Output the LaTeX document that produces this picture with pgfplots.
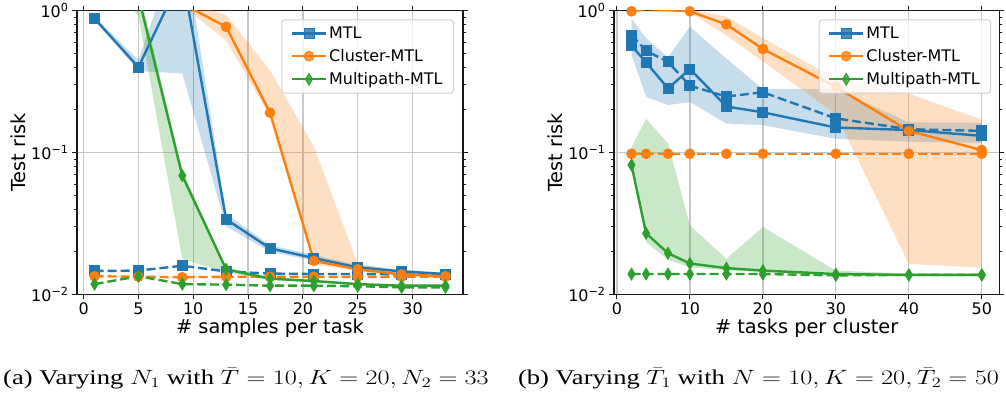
\documentclass[border=0pt]{standalone}
\usepackage[no-math]{fontspec}
\setmainfont{DejaVu Sans}
\newfontfamily\capfont{Liberation Serif}
\usepackage{graphicx}
\usepackage{pgfplots}
\pgfplotsset{compat=1.18}
\definecolor{tabblue}{HTML}{1F77B4}
\definecolor{taborange}{HTML}{FF7F0E}
\definecolor{tabgreen}{HTML}{2CA02C}
\newcommand{\tsup}[1]{\textsuperscript{#1}}
\pgfplotsset{
  legend image code/.code={\draw[mark repeat=2,mark phase=2,#1] plot coordinates {(0bp,0bp)(17bp,0bp)(34bp,0bp)};},
  mtl/.style={tabblue, line width=2.4bp, mark=square*, mark size=5bp, mark options={solid, line width=1bp, fill=tabblue}},
  cl/.style={taborange, line width=2.4bp, mark=*, mark size=4.8bp, mark options={solid, line width=1bp, fill=taborange}},
  mp/.style={tabgreen, line width=2.4bp, mark=diamond*, mark size=5.8bp, mark options={solid, line width=1bp, fill=tabgreen, xscale=0.8}},
  dsh/.style={dash pattern=on 9bp off 4bp, forget plot},
  band/.style={draw=none, fill opacity=0.25, forget plot, mark=none},
}
\begin{document}
\begin{tikzpicture}
\useasboundingbox (0,0) rectangle (1006bp,396bp);
% ---------------- (a) ----------------
\begin{axis}[at={(77bp,101.7bp)}, anchor=south west, width=386bp,
    scale only axis, height=283.6bp,
    ymode=log, ymin=0.01, ymax=1,
    axis line style={line width=1.1bp, black!90},
    tick align=outside, major tick length=5bp, minor tick length=3bp,
    major tick style={line width=1.1bp, black!90},
    minor tick style={line width=0.8bp, black!90},
    xmajorgrids, ymajorgrids,
    major grid style={black!22, line width=1.3bp},
    ytick={0.01,0.1,1},
    yticklabels={10\tsup{−2},10\tsup{−1},10\tsup{0}},
    tick label style={font=\fontsize{16}{19}\selectfont},
    /pgf/number format/assume math mode=true,
    label style={font=\fontsize{19.4}{23}\selectfont},
    xlabel style={at={(axis description cs:0.5,-0.118)}, anchor=center},
    ylabel style={at={(axis description cs:-0.152,0.5)}, anchor=center},
    ylabel={Test risk},
    legend cell align=left,
    legend style={at={(0.9767,0.9697)}, anchor=north east, font=\fontsize{16}{19}\selectfont,
      draw=black!18, line width=1bp, fill=white, fill opacity=0.8, text opacity=1, draw opacity=1,
      rounded corners=3bp, inner xsep=9bp, inner ysep=5bp, row sep=5.5bp},
  xmin=-0.6, xmax=34.6, xtick={0,5,10,15,20,25,30},
  xlabel={\# samples per task}]
\addplot[band, fill=tabblue] coordinates {(1,0.90)(5,0.45)(9,3.5)(13,0.037)(17,0.0222)(21,0.0190)(25,0.0161)(29,0.0149)(33,0.0142)
  (33,0.0136)(29,0.0141)(25,0.0150)(21,0.0172)(17,0.0200)(13,0.030)(9,0.361)(5,0.375)(1,0.86)} -- cycle;
\addplot[band, fill=taborange] coordinates {(1,1.8)(5,1.6)(9,1.2)(13,0.93)(17,0.38)(21,0.11)(25,0.0165)(29,0.0145)(33,0.0139)
  (33,0.0131)(29,0.0134)(25,0.0145)(21,0.0163)(17,0.179)(13,0.62)(9,1.08)(5,1.2)(1,1.3)} -- cycle;
\addplot[band, fill=tabgreen] coordinates {(1,2.2)(5,1.5)(9,0.075)(13,0.0155)(17,0.0132)(21,0.0127)(25,0.0120)(29,0.0117)(33,0.0117)
  (33,0.0113)(29,0.0113)(25,0.0116)(21,0.0121)(17,0.0126)(13,0.0142)(9,0.0178)(5,0.92)(1,1.9)} -- cycle;
\addplot[mtl] coordinates {(1,0.88)(5,0.40)(9,1.79)(13,0.0338)(17,0.0211)(21,0.0180)(25,0.0155)(29,0.0145)(33,0.0139)};
\addlegendentry{MTL}
\addplot[mtl, dsh] coordinates {(1,0.0146)(5,0.0147)(9,0.0159)(13,0.0145)(17,0.0140)(21,0.0139)(25,0.0139)(29,0.0138)(33,0.0137)};
\addplot[cl] coordinates {(1,1.5)(5,1.3)(9,1.12)(13,0.77)(17,0.191)(21,0.0172)(25,0.0150)(29,0.0138)(33,0.0134)};
\addlegendentry{Cluster-MTL}
\addplot[cl, dsh] coordinates {(1,0.0134)(5,0.0133)(9,0.0132)(13,0.0133)(17,0.0133)(21,0.0133)(25,0.0133)(29,0.0133)(33,0.0133)};
\addplot[mp] coordinates {(1,2.0)(5,1.26)(9,0.0687)(13,0.0150)(17,0.0129)(21,0.0124)(25,0.0118)(29,0.0115)(33,0.0115)};
\addlegendentry{Multipath-MTL}
\addplot[mp, dsh] coordinates {(1,0.0118)(5,0.0134)(9,0.0118)(13,0.0117)(17,0.0115)(21,0.0115)(25,0.0114)(29,0.0112)(33,0.0112)};
\end{axis}
% ---------------- (b) ----------------
\begin{axis}[at={(614bp,101.7bp)}, anchor=south west, width=385.3bp,
    scale only axis, height=283.6bp,
    ymode=log, ymin=0.01, ymax=1,
    axis line style={line width=1.1bp, black!90},
    tick align=outside, major tick length=5bp, minor tick length=3bp,
    major tick style={line width=1.1bp, black!90},
    minor tick style={line width=0.8bp, black!90},
    xmajorgrids, ymajorgrids,
    major grid style={black!22, line width=1.3bp},
    ytick={0.01,0.1,1},
    yticklabels={10\tsup{−2},10\tsup{−1},10\tsup{0}},
    tick label style={font=\fontsize{16}{19}\selectfont},
    /pgf/number format/assume math mode=true,
    label style={font=\fontsize{19.4}{23}\selectfont},
    xlabel style={at={(axis description cs:0.5,-0.118)}, anchor=center},
    ylabel style={at={(axis description cs:-0.152,0.5)}, anchor=center},
    ylabel={Test risk},
    legend cell align=left,
    legend style={at={(0.979,0.9697)}, anchor=north east, font=\fontsize{16}{19}\selectfont,
      draw=black!18, line width=1bp, fill=white, fill opacity=0.8, text opacity=1, draw opacity=1,
      rounded corners=3bp, inner xsep=9bp, inner ysep=5bp, row sep=5.5bp},
  xmin=-0.4, xmax=52.4, xtick={0,10,20,30,40,50},
  xlabel={\# tasks per cluster}]
\addplot[band, fill=tabblue] coordinates {(2,0.88)(4,0.64)(7,0.47)(10,0.77)(15,0.46)(20,0.28)(30,0.28)(40,0.163)(50,0.162)
  (50,0.117)(40,0.119)(30,0.125)(20,0.156)(15,0.160)(10,0.227)(7,0.216)(4,0.247)(2,0.49)} -- cycle;
\addplot[band, fill=taborange] coordinates {(2,1.05)(4,1.1)(7,1.1)(10,1.02)(15,0.91)(20,0.64)(30,0.33)(40,0.26)(50,0.17)
  (50,0.0154)(40,0.0164)(30,0.186)(20,0.44)(15,0.67)(10,0.975)(7,0.98)(4,0.98)(2,0.975)} -- cycle;
\addplot[band, fill=tabgreen] coordinates {(2,0.109)(4,0.173)(7,0.116)(10,0.0306)(15,0.0178)(20,0.0298)(30,0.0147)(40,0.0140)(50,0.0139)
  (50,0.0135)(40,0.0135)(30,0.0136)(20,0.0143)(15,0.0148)(10,0.0155)(7,0.0175)(4,0.0233)(2,0.079)} -- cycle;
\addplot[mtl] coordinates {(2,0.567)(4,0.432)(7,0.283)(10,0.388)(15,0.211)(20,0.192)(30,0.150)(40,0.144)(50,0.131)};
\addlegendentry{MTL}
\addplot[mtl, dsh] coordinates {(2,0.673)(4,0.522)(7,0.435)(10,0.296)(15,0.248)(20,0.266)(30,0.174)(40,0.146)(50,0.142)};
\addplot[cl] coordinates {(2,0.99)(4,1.03)(7,1.01)(10,0.99)(15,0.80)(20,0.537)(30,0.29)(40,0.142)(50,0.104)};
\addlegendentry{Cluster-MTL}
\addplot[cl, dsh] coordinates {(2,0.098)(4,0.098)(7,0.098)(10,0.098)(15,0.098)(20,0.098)(30,0.098)(40,0.098)(50,0.098)};
\addplot[mp] coordinates {(2,0.0816)(4,0.0269)(7,0.0195)(10,0.0165)(15,0.0153)(20,0.0147)(30,0.0139)(40,0.0137)(50,0.0137)};
\addlegendentry{Multipath-MTL}
\addplot[mp, dsh] coordinates {(2,0.0139)(4,0.0139)(7,0.0139)(10,0.0139)(15,0.0139)(20,0.0139)(30,0.0136)(40,0.0137)(50,0.0137)};
\end{axis}
% captions
\node[font=\capfont\fontsize{21}{25}\selectfont, anchor=base, inner sep=0pt] at (246bp,11.7bp) {\scalebox{1.27}[1]{(a) Varying $N_1$ with $\bar{T} = 10, K = 20, N_2 = 33$}};
\node[font=\capfont\fontsize{21}{25}\selectfont, anchor=base, inner sep=0pt] at (758.5bp,11.7bp) {\scalebox{1.27}[1]{(b) Varying $\bar{T}_1$ with $N = 10, K = 20, \bar{T}_2 = 50$}};
\end{tikzpicture}
\end{document}
